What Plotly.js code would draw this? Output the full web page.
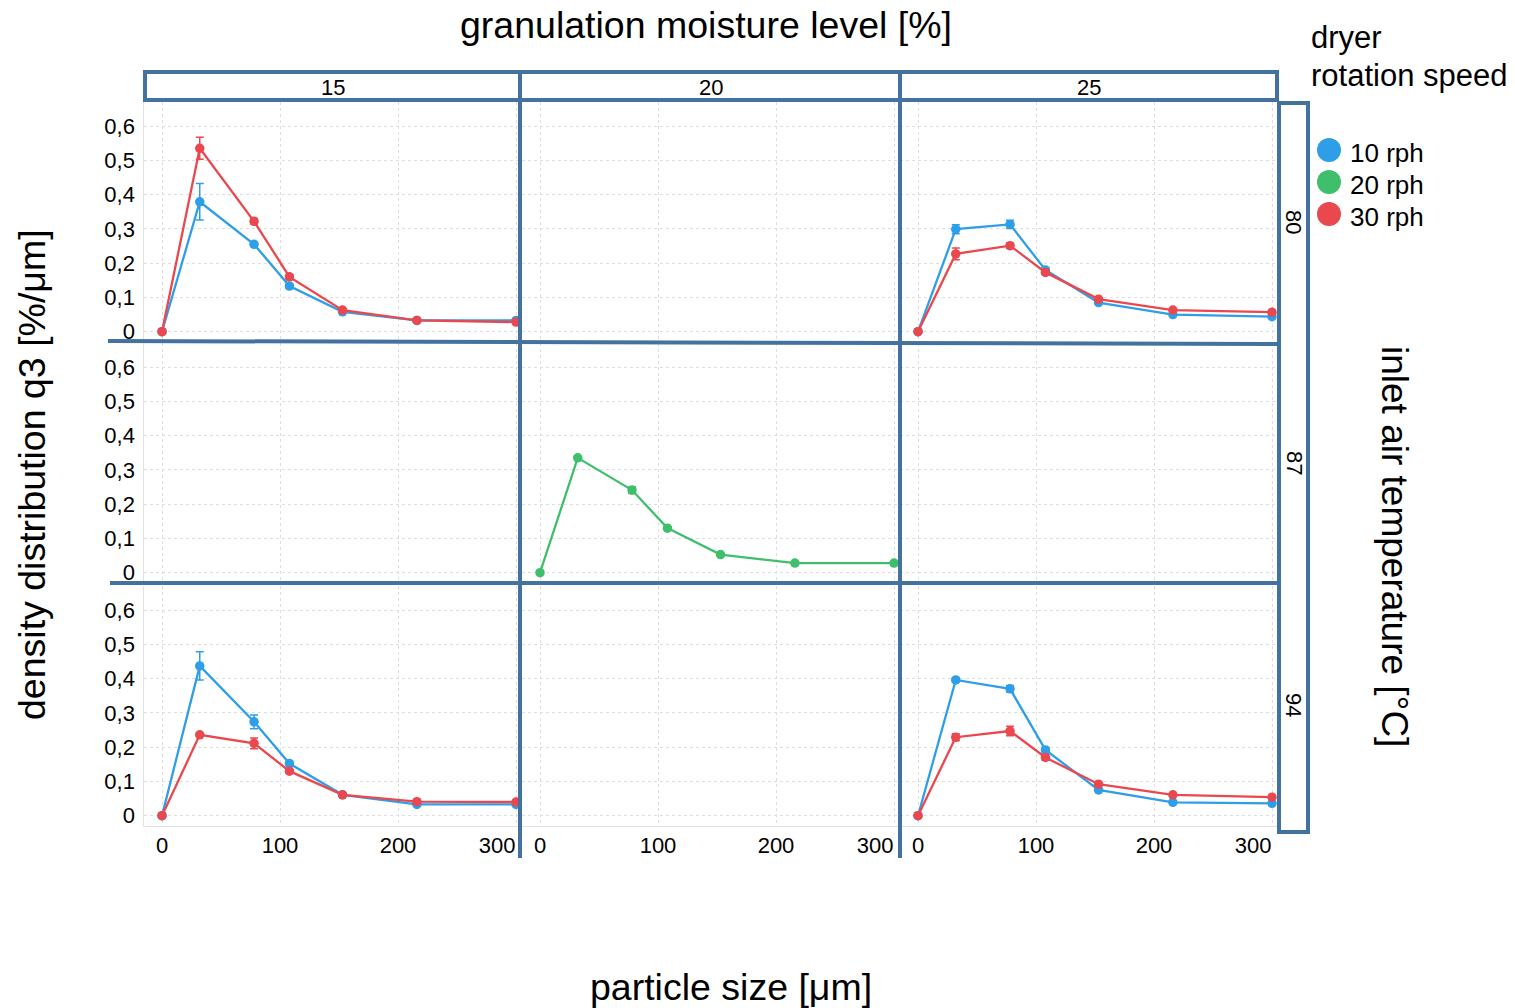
<!DOCTYPE html>
<html>
<head>
<meta charset="utf-8">
<script src="https://cdn.plot.ly/plotly-3.0.1.min.js"></script>
<style>html,body{margin:0;padding:0;background:#fff}#chart{width:1515px;height:1008px}</style>
</head>
<body>
<div id="chart"></div>
<script>
// ---- data ----
const particleSize = [0, 32, 78, 108, 153, 216, 300];
const moistureLevels = ['15', '20', '25'];
const inletTemps = ['80', '87', '94'];
const speedNames = ['10 rph', '20 rph', '30 rph'];
const yTickVals = [0, 0.1, 0.2, 0.3, 0.4, 0.5, 0.6];
const yTickLabels = ['0', '0,1', '0,2', '0,3', '0,4', '0,5', '0,6'];
const xGridVals = [0, 100, 200, 300];
// the last label sits pulled in from the panel edge, as in the source chart
const xLabelVals = [0, 100, 200, 284];
const xTickLabels = ['0', '100', '200', '300'];

// moisture 15 %, inlet 80 °C
const q3_m15_t80_10rph = [0, 0.379, 0.255, 0.133, 0.058, 0.033, 0.033];
const err_m15_t80_10rph = [0.002, 0.053, 0.005, 0.006, 0.003, 0.002, 0.002];
const q3_m15_t80_30rph = [0, 0.535, 0.322, 0.160, 0.063, 0.033, 0.028];
const err_m15_t80_30rph = [0.002, 0.032, 0.008, 0.006, 0.003, 0.002, 0.002];
// moisture 25 %, inlet 80 °C
const q3_m25_t80_10rph = [0, 0.299, 0.313, 0.180, 0.085, 0.050, 0.044];
const err_m25_t80_10rph = [0.002, 0.013, 0.012, 0.007, 0.004, 0.002, 0.002];
const q3_m25_t80_30rph = [0, 0.227, 0.251, 0.173, 0.095, 0.063, 0.057];
const err_m25_t80_30rph = [0.002, 0.017, 0.008, 0.006, 0.004, 0.002, 0.002];
// moisture 20 %, inlet 87 °C
const q3_m20_t87_20rph = [0, 0.335, 0.241, 0.130, 0.053, 0.028, 0.028];
const err_m20_t87_20rph = [0.002, 0.005, 0.010, 0.004, 0.002, 0.002, 0.002];
// moisture 15 %, inlet 94 °C
const q3_m15_t94_10rph = [0, 0.437, 0.274, 0.152, 0.061, 0.033, 0.033];
const err_m15_t94_10rph = [0.002, 0.041, 0.020, 0.006, 0.003, 0.002, 0.002];
const q3_m15_t94_30rph = [0, 0.236, 0.211, 0.130, 0.061, 0.041, 0.040];
const err_m15_t94_30rph = [0.002, 0.004, 0.016, 0.005, 0.003, 0.002, 0.002];
// moisture 25 %, inlet 94 °C
const q3_m25_t94_10rph = [0, 0.396, 0.370, 0.192, 0.075, 0.039, 0.036];
const err_m25_t94_10rph = [0.002, 0.006, 0.010, 0.007, 0.003, 0.002, 0.002];
const q3_m25_t94_30rph = [0, 0.229, 0.247, 0.170, 0.092, 0.061, 0.054];
const err_m25_t94_30rph = [0.002, 0.010, 0.014, 0.008, 0.004, 0.002, 0.002];

// ---- styling ----
const W = 1515, H = 1008;
const px = v => v / W;
const py = v => 1 - v / H;
const FONT = 'Liberation Sans, Arial, sans-serif';
const FRAME = '#44729f';
const COLORS = {'10 rph': '#2f9ee9', '20 rph': '#3fbf6c', '30 rph': '#e9484e'};

const colPx = [[144.3, 521.9], [522.3, 899.9], [900.3, 1277.9]];
const rowPx = [[102, 342], [343, 583], [586, 826]];

const panels = [
  {r: 0, c: 0, series: [['10 rph', q3_m15_t80_10rph, err_m15_t80_10rph], ['30 rph', q3_m15_t80_30rph, err_m15_t80_30rph]]},
  {r: 0, c: 1, series: []},
  {r: 0, c: 2, series: [['10 rph', q3_m25_t80_10rph, err_m25_t80_10rph], ['30 rph', q3_m25_t80_30rph, err_m25_t80_30rph]]},
  {r: 1, c: 0, series: []},
  {r: 1, c: 1, series: [['20 rph', q3_m20_t87_20rph, err_m20_t87_20rph]]},
  {r: 1, c: 2, series: []},
  {r: 2, c: 0, series: [['10 rph', q3_m15_t94_10rph, err_m15_t94_10rph], ['30 rph', q3_m15_t94_30rph, err_m15_t94_30rph]]},
  {r: 2, c: 1, series: []},
  {r: 2, c: 2, series: [['10 rph', q3_m25_t94_10rph, err_m25_t94_10rph], ['30 rph', q3_m25_t94_30rph, err_m25_t94_30rph]]}
];

const layout = {
  width: W, height: H,
  margin: {l: 0, r: 0, t: 0, b: 0},
  paper_bgcolor: '#fff', plot_bgcolor: '#fff',
  separators: ',.',
  showlegend: false,
  font: {family: FONT, color: '#000'},
  shapes: [], annotations: []
};

for (let r = 0; r < 3; r++) {
  for (let c = 0; c < 3; c++) {
    const i = r * 3 + c + 1;
    const sfx = i === 1 ? '' : String(i);
    layout['xaxis' + sfx] = {
      domain: [px(colPx[c][0]), px(colPx[c][1])],
      anchor: 'y' + sfx,
      range: [-15, 305],
      tickmode: 'array', tickvals: xLabelVals, ticktext: xTickLabels,
      showticklabels: r === 2,
      tickfont: {size: 22, family: FONT, color: '#000'},
      ticks: '', ticklabelstandoff: 0,
      showgrid: false,
      minor: {tickmode: 'array', tickvals: xGridVals, ticks: '', showgrid: true, gridcolor: '#dedede', griddash: 'dot', gridwidth: 1},
      zeroline: false, showline: true, linecolor: '#e2e2e2', linewidth: 1,
      fixedrange: true
    };
    layout['yaxis' + sfx] = {
      domain: [py(rowPx[r][1]), py(rowPx[r][0])],
      anchor: 'x' + sfx,
      range: [-0.03, 0.67],
      tickmode: 'array', tickvals: yTickVals, ticktext: yTickLabels,
      showticklabels: c === 0,
      tickfont: {size: 22, family: FONT, color: '#000'},
      ticks: '', ticklabelstandoff: 4,
      showgrid: true, gridcolor: '#dedede', griddash: 'dot', gridwidth: 1,
      zeroline: false, showline: true, linecolor: '#e2e2e2', linewidth: 1,
      fixedrange: true
    };
  }
}

const traces = [];
panels.forEach(p => {
  const i = p.r * 3 + p.c + 1;
  const sfx = i === 1 ? '' : String(i);
  if (p.series.length === 0) {
    // empty facet: keep its axes and grid
    traces.push({type: 'scatter', mode: 'markers', x: [], y: [], xaxis: 'x' + sfx, yaxis: 'y' + sfx, hoverinfo: 'skip'});
  }
  p.series.forEach(([name, vals, errs]) => {
    traces.push({
      type: 'scatter', mode: 'lines+markers', name: name,
      x: particleSize, y: vals,
      xaxis: 'x' + sfx, yaxis: 'y' + sfx,
      line: {color: COLORS[name], width: 2.3},
      marker: {color: COLORS[name], size: 9.5},
      error_y: {type: 'data', array: errs, visible: true, color: COLORS[name], thickness: 1.5, width: 4},
      cliponaxis: false,
      hoverinfo: 'x+y+name'
    });
  });
});

// frames & strips
const S = layout.shapes;
const line = (x0, y0, x1, y1) => S.push({type: 'line', xref: 'paper', yref: 'paper', x0: px(x0), y0: py(y0), x1: px(x1), y1: py(y1), line: {color: FRAME, width: 4}});
S.push({type: 'rect', xref: 'paper', yref: 'paper', x0: px(145), x1: px(1277), y0: py(100), y1: py(72), fillcolor: '#fff', line: {color: FRAME, width: 4}});
S.push({type: 'rect', xref: 'paper', yref: 'paper', x0: px(1279), x1: px(1308), y0: py(832), y1: py(103), fillcolor: '#fff', line: {color: FRAME, width: 4}});
line(108, 341, 1279, 344);
line(110, 583, 1279, 583);
line(520, 72, 520, 858);
line(900, 72, 900, 858);

// legend symbols
const legY = [150, 182, 214];
speedNames.forEach((n, k) => {
  S.push({type: 'circle', xref: 'paper', yref: 'paper', x0: px(1317), x1: px(1341), y0: py(legY[k] + 12), y1: py(legY[k] - 12), fillcolor: COLORS[n], line: {width: 0}});
});

const A = layout.annotations;
const ann = (text, x, y, size, extra) => A.push(Object.assign({text: text, xref: 'paper', yref: 'paper', x: px(x), y: py(y), showarrow: false, font: {size: size, family: FONT, color: '#000'}, xanchor: 'center', yanchor: 'middle'}, extra || {}));

// strip labels
const stripCx = [333, 711, 1089];
moistureLevels.forEach((m, k) => ann(m, stripCx[k], 87, 22));
const stripCy = [222, 463, 705];
inletTemps.forEach((t, k) => ann(t, 1294, stripCy[k], 22, {textangle: 90}));

// titles
ann('granulation moisture level [%]', 706, 25, 37.5);
ann('particle size [μm]', 731, 987, 37.5);
ann('density distribution q3 [%/μm]', 32, 475, 37.5, {textangle: -90});
ann('inlet air temperature [°C]', 1395, 546, 37, {textangle: 90});
ann('dryer', 1309, 38, 31, {xanchor: 'left'});
ann('rotation speed', 1309, 76, 31, {xanchor: 'left'});
speedNames.forEach((n, k) => ann(n, 1348, legY[k] + 3, 26, {xanchor: 'left'}));

Plotly.newPlot('chart', traces, layout, {displayModeBar: false, staticPlot: true});
</script>
</body>
</html>
